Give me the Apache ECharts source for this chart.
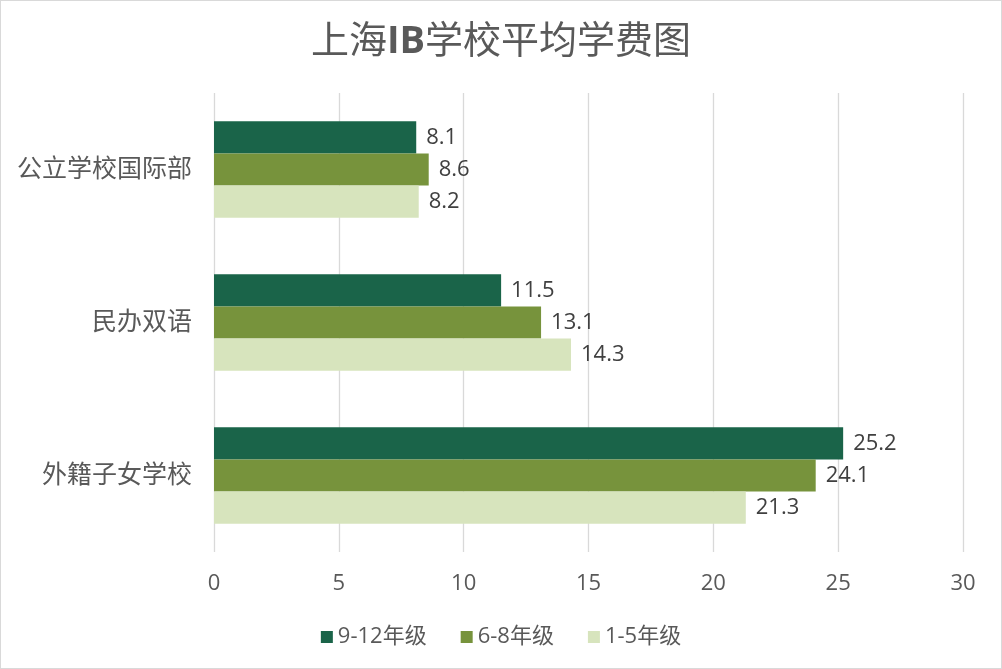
<!DOCTYPE html>
<html><head><meta charset="utf-8">
<script src="https://cdn.jsdelivr.net/npm/echarts@6/dist/echarts.min.js"></script>
<style>html,body{margin:0;padding:0;background:#fff}#c{width:1002px;height:669px;box-sizing:border-box;border:1px solid #d9d9d9}</style>
</head><body><div id="c"></div>
<script>
const categories = ['公立学校国际部', '民办双语', '外籍子女学校'];
const seriesNames = ['9-12年级', '6-8年级', '1-5年级'];
const g912 = [8.1, 11.5, 25.2];
const g68 = [8.6, 13.1, 24.1];
const g15 = [8.2, 14.3, 21.3];
const colors = ['#1a6449', '#77933c', '#d7e4bd'];
const font = '"Open Sans","Noto Sans CJK SC",sans-serif';
const chart = echarts.init(document.getElementById('c'));
const vals = [g912, g68, g15];
chart.setOption({
  animation: false,
  textStyle: {fontFamily: font},
  title: {text: '上海{b|IB}学校平均学费图', left: 'center', top: 17,
    textStyle: {fontSize: 38, fontWeight: 'normal', color: '#595959', fontFamily: font,
      rich: {b: {fontSize: 38, fontWeight: 'bold', color: '#595959', fontFamily: font}}}},
  legend: {bottom: 15, left: 'center', itemWidth: 12, itemHeight: 12, itemGap: 34,
    icon: 'rect', textStyle: {fontSize: 22, color: '#595959', fontFamily: font},
    data: seriesNames},
  grid: {left: 213, right: 38, top: 92, bottom: 116},
  xAxis: {type: 'value', min: 0, max: 30, interval: 5,
    axisLine: {show: false}, axisTick: {show: false},
    axisLabel: {fontSize: 22, color: '#595959', margin: 21},
    splitLine: {lineStyle: {color: '#d9d9d9', width: 1.3}}},
  yAxis: {type: 'category', data: categories, inverse: true,
    axisLine: {show: false}, axisTick: {show: false},
    axisLabel: {fontSize: 25, color: '#595959', margin: 22}},
  series: seriesNames.map((n, i) => ({
    name: n, type: 'bar', data: vals[i], barGap: '0%', barCategoryGap: '37%',
    itemStyle: {color: colors[i]},
    label: {show: true, position: 'right', distance: 10, fontSize: 22, color: '#404040'}
  }))
});
</script></body></html>
